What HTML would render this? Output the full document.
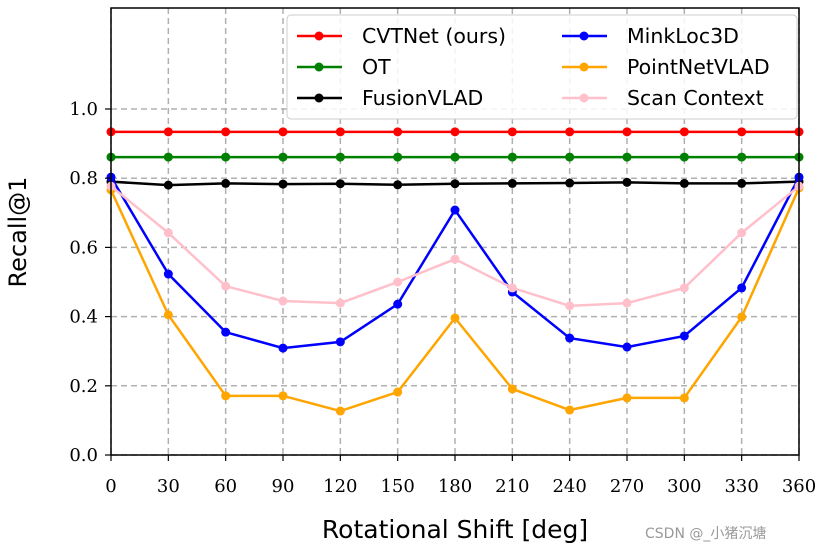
<!DOCTYPE html>
<html><head><meta charset="utf-8"><style>
body{margin:0;background:#fff;width:820px;height:551px;overflow:hidden}
svg text{font-family:"DejaVu Sans","Liberation Sans",sans-serif}
.tick{font-family:"DejaVu Serif","Liberation Serif",serif;font-size:18px}
</style></head><body>
<svg id="chart" width="820" height="551" xmlns="http://www.w3.org/2000/svg">
<g id="grid"></g>
<g id="series"></g>
<rect x="111" y="8" width="688" height="447" fill="none" stroke="#000" stroke-width="1.5"/>
<g id="ticks"></g>
<text x="455" y="538" text-anchor="middle" font-size="25">Rotational Shift [deg]</text>
<text transform="translate(26,232) rotate(-90)" text-anchor="middle" font-size="24">Recall@1</text>
<g id="legend"></g>
<text x="645" y="538" font-size="14" fill="#999" font-family="Liberation Sans,Noto Sans CJK SC,sans-serif">CSDN @_小猪沉塘</text>
</svg>
<script>
const xTicks=[0,30,60,90,120,150,180,210,240,270,300,330,360];
const yTicks=[0.0,0.2,0.4,0.6,0.8,1.0];
const names=["CVTNet (ours)","OT","FusionVLAD","MinkLoc3D","PointNetVLAD","Scan Context"];
const colors=["#ff0000","#008000","#000000","#0000ff","#ffa500","#ffc0cb"];
const cvtnet=[0.934,0.934,0.934,0.934,0.934,0.934,0.934,0.934,0.934,0.934,0.934,0.934,0.934];
const ot=[0.861,0.861,0.861,0.861,0.861,0.861,0.861,0.861,0.861,0.861,0.861,0.861,0.861];
const fusionvlad=[0.79,0.78,0.785,0.783,0.784,0.781,0.784,0.785,0.786,0.788,0.785,0.785,0.79];
const minkloc=[0.803,0.523,0.355,0.309,0.327,0.436,0.708,0.471,0.338,0.312,0.344,0.483,0.803];
const pointnetvlad=[0.766,0.405,0.171,0.171,0.127,0.182,0.396,0.191,0.130,0.165,0.165,0.399,0.772];
const scancontext=[0.777,0.642,0.488,0.445,0.439,0.5,0.566,0.483,0.431,0.439,0.483,0.642,0.777];
const seriesData=[cvtnet,ot,fusionvlad,minkloc,pointnetvlad,scancontext];
const NS="http://www.w3.org/2000/svg";
const X=v=>111+v/360*688, Y=v=>455-v*346;
function mk(t,a,p){const e=document.createElementNS(NS,t);for(const k in a)e.setAttribute(k,a[k]);p.appendChild(e);return e;}
const grid=document.getElementById('grid'),ticks=document.getElementById('ticks'),ser=document.getElementById('series'),leg=document.getElementById('legend');
xTicks.forEach(v=>{
 const l=mk('line',{x1:X(v),x2:X(v),y1:8,y2:455,stroke:'#b0b0b0','stroke-width':1.5,'stroke-dasharray':'6,4'},grid);
 
 const t=mk('line',{x1:X(v),x2:X(v),y1:455,y2:461,stroke:'#000','stroke-width':1.2},ticks);
 
 const s=mk('text',{x:X(v),y:492,'text-anchor':'middle',class:'tick'},ticks);s.textContent=v;
 
});
yTicks.forEach(v=>{
 const l=mk('line',{x1:111,x2:799,y1:Y(v),y2:Y(v),stroke:'#b0b0b0','stroke-width':1.5,'stroke-dasharray':'6,4'},grid);
 
 const t=mk('line',{x1:105,x2:111,y1:Y(v),y2:Y(v),stroke:'#000','stroke-width':1.2},ticks);
 
 const s=mk('text',{x:98,y:Y(v)+6,'text-anchor':'end',class:'tick'},ticks);s.textContent=v.toFixed(1);
 
});
seriesData.forEach((d,i)=>{
 const g=mk('g',{},ser);
 
 
 const p=mk('polyline',{points:d.map((v,j)=>X(xTicks[j])+','+Y(v)).join(' '),fill:'none',stroke:colors[i],'stroke-width':2.5},g);
 
 d.forEach((v,j)=>{const c=mk('circle',{cx:X(xTicks[j]),cy:Y(v),r:4.5,fill:colors[i]},g);
  });
});
const box=mk('rect',{x:287,y:15,width:510,height:104,rx:4,fill:'rgba(255,255,255,0.85)',stroke:'#ccc','stroke-width':1},leg);

names.forEach((n,i)=>{
 const col=Math.floor(i/3),row=i%3;
 const x0=col?562:297,y0=36+row*31;
 const g=mk('g',{},leg);
 
 mk('line',{x1:x0,x2:x0+45,y1:y0,y2:y0,stroke:colors[i],'stroke-width':2.5},g);
 mk('circle',{cx:x0+22,cy:y0,r:4.5,fill:colors[i]},g);
 const t=mk('text',{x:x0+65,y:y0+7,'font-size':20.5},g);t.textContent=n;
});
</script>
</body></html>
